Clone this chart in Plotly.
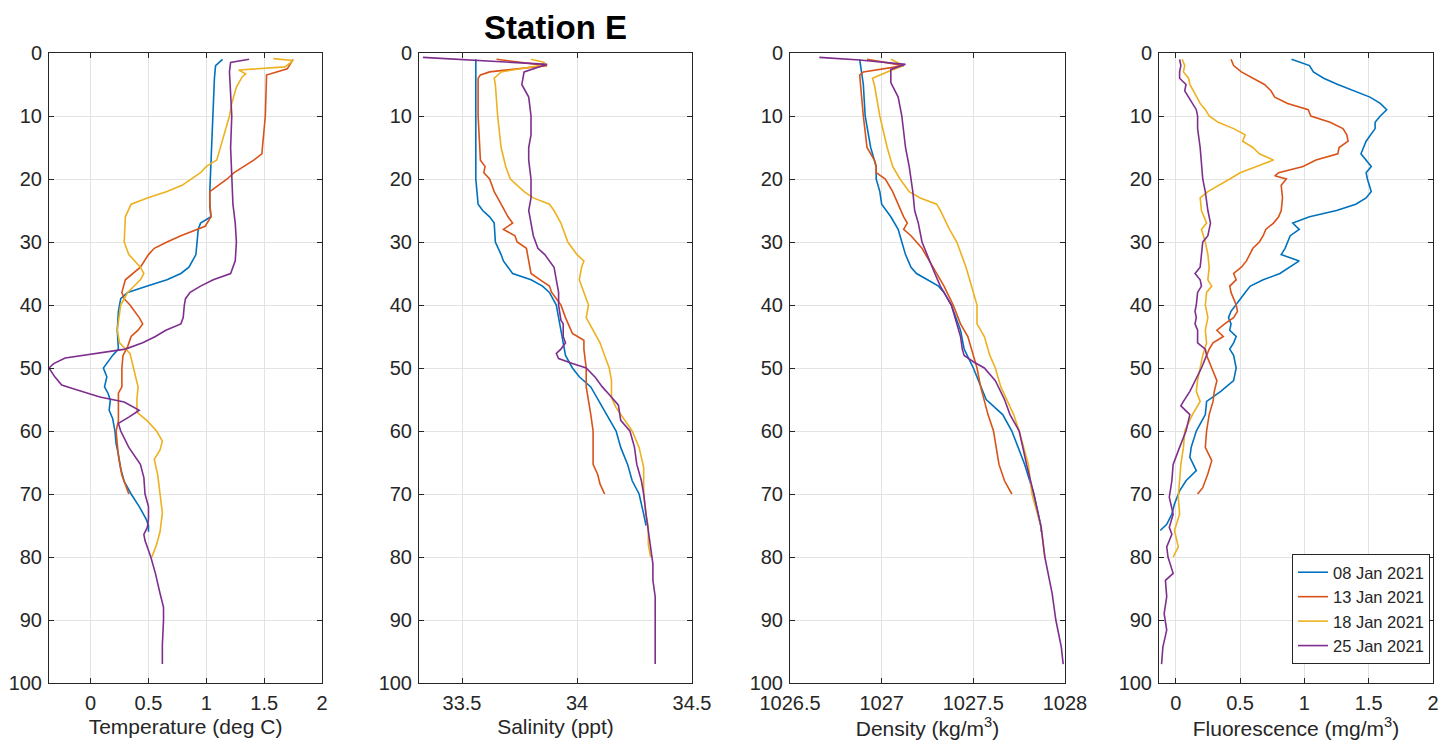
import plotly.graph_objects as go

dates = ["08 Jan 2021", "13 Jan 2021", "18 Jan 2021", "25 Jan 2021"]
colors = ["#0072BD", "#D95319", "#EDB120", "#7E2F8E"]

# ---------------- Temperature (deg C) ----------------
temp_d_0108 = [1, 2, 4, 8, 12, 16, 20, 22, 24, 26, 27, 28, 30, 32, 33, 34, 35, 36, 37, 38, 39, 41, 44, 46, 47, 48, 49, 50, 51.4, 53, 54, 55.1, 56.7, 58, 60, 62, 63.7, 66, 68, 70, 72, 74, 75, 76]
temp_0108 = [1.14, 1.08, 1.07, 1.06, 1.05, 1.04, 1.03, 1.03, 1.03, 1.04, 0.95, 0.93, 0.92, 0.91, 0.88, 0.85, 0.78, 0.66, 0.49, 0.32, 0.26, 0.24, 0.23, 0.24, 0.24, 0.19, 0.15, 0.11, 0.14, 0.12, 0.15, 0.17, 0.16, 0.19, 0.21, 0.22, 0.24, 0.26, 0.29, 0.35, 0.42, 0.48, 0.50, 0.50]

temp_d_0113 = [1, 2.5, 3.5, 4, 10, 16, 17, 19, 20, 22, 24, 26, 27.5, 28, 29, 30, 31, 32, 34, 36, 38, 39, 40, 42, 43, 44, 45, 46.6, 48, 50, 53, 54, 56, 58.4, 60, 64, 67, 70]
temp_0113 = [1.75, 1.70, 1.52, 1.52, 1.51, 1.48, 1.41, 1.24, 1.18, 1.03, 1.03, 1.04, 0.99, 0.92, 0.78, 0.66, 0.55, 0.50, 0.43, 0.30, 0.27, 0.29, 0.34, 0.42, 0.45, 0.41, 0.35, 0.32, 0.28, 0.27, 0.27, 0.24, 0.24, 0.24, 0.22, 0.24, 0.27, 0.33]

temp_d_0118 = [0.9, 1.2, 2.2, 2.7, 3.3, 3.8, 5.4, 8, 10, 14, 17, 18, 19, 21, 22, 23, 24, 26, 30, 32, 34, 35, 36, 38, 40, 44, 46, 47.7, 50, 53, 55, 57, 58.4, 60, 61.6, 63, 64.5, 67, 70, 73, 76, 78, 80]
temp_0118 = [1.58, 1.75, 1.68, 1.28, 1.34, 1.31, 1.26, 1.22, 1.20, 1.14, 1.09, 1.00, 0.95, 0.79, 0.66, 0.49, 0.35, 0.30, 0.29, 0.33, 0.43, 0.46, 0.43, 0.32, 0.26, 0.23, 0.25, 0.34, 0.37, 0.41, 0.40, 0.40, 0.49, 0.57, 0.62, 0.60, 0.55, 0.58, 0.60, 0.62, 0.60, 0.57, 0.53]

temp_d_0125 = [1, 1.5, 3, 6, 10, 15, 20, 24, 27, 30, 33, 34, 35, 36, 37, 38, 39, 40, 42, 43, 44, 45, 46, 47, 47.7, 48.4, 49.3, 50, 51.4, 52.7, 53.3, 54.6, 55.4, 56.7, 57.8, 58.8, 60, 62.6, 65.3, 67.4, 70, 72, 74, 75.3, 76.4, 77.4, 80, 82.6, 85.8, 88, 90, 94, 97]
temp_0125 = [1.37, 1.21, 1.20, 1.21, 1.22, 1.21, 1.22, 1.23, 1.25, 1.26, 1.25, 1.23, 1.21, 1.06, 0.95, 0.86, 0.82, 0.81, 0.80, 0.78, 0.65, 0.56, 0.45, 0.30, 0.02, -0.22, -0.32, -0.36, -0.31, -0.25, -0.15, 0.08, 0.29, 0.42, 0.33, 0.24, 0.26, 0.33, 0.43, 0.46, 0.47, 0.50, 0.50, 0.49, 0.46, 0.47, 0.52, 0.56, 0.60, 0.63, 0.63, 0.62, 0.62]

# ---------------- Salinity (ppt) ----------------
sal_d_0108 = [1, 5, 10, 15, 20, 22, 24, 25, 26, 27, 30, 32, 33, 34, 35, 36, 37, 38, 40, 44, 48, 50, 51.4, 53, 55.6, 57.4, 60, 62.6, 65.3, 67.9, 70, 73.2, 75]
sal_0108 = [33.56, 33.56, 33.56, 33.56, 33.56, 33.565, 33.57, 33.59, 33.62, 33.64, 33.645, 33.67, 33.68, 33.70, 33.72, 33.80, 33.85, 33.88, 33.91, 33.93, 33.95, 33.98, 34.01, 34.06, 34.10, 34.13, 34.17, 34.19, 34.22, 34.24, 34.27, 34.29, 34.30]

sal_d_0113 = [1, 2, 3, 3.5, 4, 10, 17, 18, 19, 20, 21, 22, 24, 26, 27, 28, 29, 30, 31, 33, 35, 36, 37, 38, 40, 42, 44.5, 45.6, 47, 50, 53, 57.4, 60, 65.3, 66.9, 68.4, 70]
sal_0113 = [33.65, 33.87, 33.62, 33.58, 33.57, 33.57, 33.58, 33.60, 33.595, 33.62, 33.63, 33.64, 33.67, 33.70, 33.72, 33.68, 33.73, 33.74, 33.78, 33.79, 33.80, 33.84, 33.88, 33.89, 33.93, 33.95, 33.98, 34.03, 34.03, 34.04, 34.04, 34.06, 34.07, 34.07, 34.09, 34.10, 34.12]

sal_d_0118 = [1, 1.5, 2, 3, 4, 5, 10, 15, 18, 20, 22, 23, 24, 25, 27, 30, 32, 33, 34, 36, 38, 40, 42, 44, 46, 48, 50, 52, 54.7, 56.3, 58.4, 60, 62.6, 65.8, 67.9, 70, 73.2, 75.3, 78, 80]
sal_0118 = [33.80, 33.86, 33.84, 33.67, 33.64, 33.645, 33.655, 33.67, 33.69, 33.71, 33.77, 33.81, 33.88, 33.90, 33.93, 33.96, 34.00, 34.03, 34.02, 34.01, 34.03, 34.05, 34.04, 34.07, 34.10, 34.12, 34.14, 34.15, 34.15, 34.17, 34.21, 34.24, 34.27, 34.29, 34.29, 34.29, 34.30, 34.31, 34.31, 34.32]

sal_d_0125 = [0.7, 1.2, 1.8, 3, 5, 7, 10, 13, 15, 17, 20, 23, 25, 27, 29, 31, 32, 34, 36, 38, 40, 42.4, 43, 45, 46, 47, 47.7, 48.5, 49.3, 50, 51.5, 53, 54.2, 55.9, 58.3, 60, 62.6, 65.3, 67.9, 70, 73.2, 75.8, 78.4, 81.1, 83.7, 86.3, 89, 93, 97]
sal_0125 = [33.33, 33.56, 33.87, 33.77, 33.76, 33.79, 33.80, 33.80, 33.79, 33.79, 33.80, 33.80, 33.79, 33.80, 33.81, 33.83, 33.86, 33.90, 33.91, 33.92, 33.92, 33.93, 33.94, 33.94, 33.95, 33.93, 33.91, 33.92, 33.98, 34.04, 34.08, 34.11, 34.14, 34.18, 34.19, 34.23, 34.25, 34.26, 34.28, 34.29, 34.30, 34.31, 34.32, 34.33, 34.33, 34.34, 34.34, 34.34, 34.34]

# ---------------- Density (kg/m3) ----------------
den_d_0108 = [1, 5, 10, 15, 18, 20, 22, 24, 26, 28, 30, 32, 34, 35, 36, 37, 38, 40, 44, 47, 50, 53, 55, 57.4, 60, 65.3, 70, 75.3, 76]
den_0108 = [1026.88, 1026.90, 1026.91, 1026.94, 1026.97, 1026.97, 1026.99, 1027.00, 1027.05, 1027.09, 1027.11, 1027.13, 1027.16, 1027.19, 1027.25, 1027.31, 1027.34, 1027.38, 1027.43, 1027.45, 1027.50, 1027.54, 1027.57, 1027.66, 1027.71, 1027.78, 1027.83, 1027.87, 1027.87]

den_d_0113 = [1, 2, 3, 3.5, 10, 15, 17, 18, 19, 20, 22, 24, 26, 27, 28, 29, 31, 33, 35, 37, 40, 43, 45, 48, 50, 53, 57.4, 60, 65.3, 67.9, 70]
den_0113 = [1026.92, 1027.12, 1026.90, 1026.88, 1026.90, 1026.92, 1026.96, 1026.97, 1026.97, 1027.02, 1027.06, 1027.09, 1027.12, 1027.14, 1027.12, 1027.16, 1027.22, 1027.26, 1027.30, 1027.34, 1027.39, 1027.43, 1027.47, 1027.50, 1027.52, 1027.54, 1027.58, 1027.61, 1027.64, 1027.67, 1027.71]

den_d_0118 = [1, 2, 3, 4, 5, 10, 15, 18, 20, 22, 23, 24, 25, 28, 30, 33, 34, 36, 38, 40, 43, 45, 48, 50, 53, 57.4, 60, 65.3, 70, 75.3, 80]
den_0118 = [1027.05, 1027.12, 1027.03, 1026.95, 1026.96, 1026.99, 1027.03, 1027.06, 1027.10, 1027.15, 1027.21, 1027.30, 1027.32, 1027.37, 1027.41, 1027.45, 1027.46, 1027.48, 1027.50, 1027.52, 1027.52, 1027.56, 1027.59, 1027.62, 1027.65, 1027.72, 1027.75, 1027.80, 1027.82, 1027.87, 1027.89]

den_d_0125 = [0.7, 1.1, 1.8, 2.6, 4.7, 7, 10, 15, 18, 20, 22, 25, 27, 30, 33, 35, 37, 40, 43, 45, 47, 48, 49, 50, 52, 55, 57.4, 60, 62.6, 65.3, 70, 75.3, 80, 85.8, 90, 94.3, 97]
den_0125 = [1026.66, 1026.88, 1027.13, 1027.05, 1027.05, 1027.09, 1027.11, 1027.13, 1027.15, 1027.16, 1027.17, 1027.18, 1027.20, 1027.22, 1027.26, 1027.29, 1027.32, 1027.38, 1027.41, 1027.43, 1027.44, 1027.45, 1027.50, 1027.56, 1027.62, 1027.67, 1027.70, 1027.75, 1027.77, 1027.79, 1027.83, 1027.87, 1027.89, 1027.93, 1027.95, 1027.98, 1027.99]

# ---------------- Fluorescence (mg/m3) ----------------
flu_d_0108 = [1, 2, 3, 4, 5, 6, 7, 8, 9, 10, 11, 12, 14, 16, 17, 18, 19, 20, 22, 23, 24, 25, 26, 27, 28, 29, 31, 32, 33, 34, 35, 36, 37, 38, 40, 41, 42, 43, 44, 45, 46, 47, 48, 50, 52, 53.7, 55.3, 57.4, 60, 62.6, 64.2, 66.3, 67.9, 69.5, 71.6, 73.2, 74.8, 75.8]
flu_0108 = [0.90, 1.04, 1.07, 1.15, 1.26, 1.38, 1.51, 1.59, 1.64, 1.59, 1.55, 1.55, 1.48, 1.44, 1.48, 1.52, 1.48, 1.49, 1.52, 1.48, 1.40, 1.25, 1.04, 0.91, 0.96, 0.89, 0.85, 0.82, 0.96, 0.89, 0.81, 0.68, 0.58, 0.54, 0.47, 0.43, 0.41, 0.43, 0.42, 0.47, 0.45, 0.42, 0.45, 0.47, 0.45, 0.35, 0.24, 0.23, 0.16, 0.12, 0.11, 0.16, 0.08, 0.03, -0.01, -0.03, -0.07, -0.12]

flu_d_0113 = [1, 2, 3, 4, 5, 6, 7, 8, 9, 10, 11, 12, 13, 14, 15, 16, 17, 18, 19, 19.5, 20, 21, 23, 25, 26, 27, 28, 29, 30, 31, 33, 34, 35, 36, 37, 38, 39, 40, 41, 42, 43, 44, 45, 46, 47, 48, 50, 52, 53.7, 55.3, 57.4, 60, 62.6, 64.7, 66.8, 69, 70]
flu_0113 = [0.43, 0.45, 0.51, 0.60, 0.69, 0.74, 0.77, 0.87, 1.03, 1.05, 1.20, 1.30, 1.33, 1.34, 1.27, 1.26, 1.09, 0.99, 0.80, 0.77, 0.86, 0.82, 0.83, 0.82, 0.80, 0.76, 0.70, 0.68, 0.65, 0.60, 0.55, 0.51, 0.45, 0.47, 0.42, 0.43, 0.45, 0.47, 0.48, 0.45, 0.38, 0.32, 0.37, 0.29, 0.26, 0.24, 0.28, 0.32, 0.30, 0.29, 0.26, 0.24, 0.23, 0.28, 0.25, 0.21, 0.17]

flu_d_0118 = [1, 2, 3, 4, 5, 7, 8, 9, 10, 11, 12, 13, 14, 15, 16, 17, 18, 19, 20, 21, 22, 23, 25, 27, 28, 30, 32, 34, 36, 37, 38, 40, 42, 44, 46, 48, 50, 52, 53.7, 55.3, 57.4, 60, 62.6, 65.3, 67.9, 70.5, 73.2, 75.8, 78.4, 80]
flu_0118 = [0.05, 0.07, 0.06, 0.10, 0.11, 0.16, 0.19, 0.23, 0.26, 0.33, 0.45, 0.54, 0.52, 0.60, 0.65, 0.76, 0.63, 0.50, 0.42, 0.34, 0.25, 0.19, 0.20, 0.24, 0.20, 0.23, 0.25, 0.26, 0.25, 0.28, 0.24, 0.23, 0.25, 0.23, 0.24, 0.21, 0.19, 0.17, 0.16, 0.19, 0.13, 0.07, 0.06, 0.04, 0.03, 0.02, 0.03, -0.01, 0.02, -0.02]

flu_d_0125 = [1, 2, 3, 4, 5, 6, 7, 8, 9, 10, 12, 15, 18, 20, 22, 25, 27, 29, 30, 32, 34, 35, 36, 37, 38, 40, 41, 42, 43, 44, 46, 47, 48, 50, 52, 53.7, 55.3, 56, 57.4, 60, 62.6, 65.3, 67.9, 70.5, 73.2, 75.3, 76.4, 78.4, 80, 82.6, 83.7, 86.3, 89, 91.6, 94.3, 97]
flu_0125 = [0.03, 0.04, 0.03, 0.03, 0.08, 0.07, 0.10, 0.13, 0.16, 0.17, 0.17, 0.19, 0.20, 0.21, 0.23, 0.25, 0.27, 0.25, 0.21, 0.20, 0.19, 0.15, 0.19, 0.20, 0.17, 0.16, 0.15, 0.16, 0.15, 0.17, 0.17, 0.23, 0.24, 0.20, 0.15, 0.11, 0.06, 0.04, 0.11, 0.08, 0.03, -0.02, -0.03, -0.05, -0.02, -0.05, -0.03, -0.07, -0.06, -0.02, -0.08, -0.07, -0.09, -0.07, -0.10, -0.11]

depth_ticks = [0, 10, 20, 30, 40, 50, 60, 70, 80, 90, 100]

panels = [
    dict(series=[(temp_0108, temp_d_0108), (temp_0113, temp_d_0113), (temp_0118, temp_d_0118), (temp_0125, temp_d_0125)],
         title="Temperature (deg C)", range=[-0.36, 2], ticks=[0, 0.5, 1, 1.5, 2]),
    dict(series=[(sal_0108, sal_d_0108), (sal_0113, sal_d_0113), (sal_0118, sal_d_0118), (sal_0125, sal_d_0125)],
         title="Salinity (ppt)", range=[33.313, 34.5], ticks=[33.5, 34, 34.5]),
    dict(series=[(den_0108, den_d_0108), (den_0113, den_d_0113), (den_0118, den_d_0118), (den_0125, den_d_0125)],
         title="Density (kg/m<sup>3</sup>)", range=[1026.5, 1028], ticks=[1026.5, 1027, 1027.5, 1028]),
    dict(series=[(flu_0108, flu_d_0108), (flu_0113, flu_d_0113), (flu_0118, flu_d_0118), (flu_0125, flu_d_0125)],
         title="Fluorescence (mg/m<sup>3</sup>)", range=[-0.13, 2], ticks=[0, 0.5, 1, 1.5, 2]),
]

# The page body adds an 8 px offset, so the figure is laid out 8 px smaller.
OFF = 8
W, H = 1454 - OFF, 747 - OFF
ML, MR, MT, MB = 49 - OFF, 21, 53 - OFF, 64
pw = W - ML - MR
page_domains = [(49, 322), (419, 692), (790, 1065), (1159, 1433)]
domains = [((a - OFF - ML) / pw, (b - OFF - ML) / pw) for a, b in page_domains]
ph = H - MT - MB

FONT = "Liberation Sans, Arial, sans-serif"
AX = "#262626"

fig = go.Figure()
layout = dict(
    width=W, height=H,
    margin=dict(l=ML, r=MR, t=MT, b=MB, autoexpand=False),
    paper_bgcolor="white", plot_bgcolor="white",
    font=dict(family=FONT, color=AX),
    showlegend=True,
)

for i, p in enumerate(panels):
    n = i + 1
    xa = "x" if n == 1 else f"x{n}"
    ya = "y" if n == 1 else f"y{n}"
    for j, (xv, dv) in enumerate(p["series"]):
        fig.add_trace(go.Scatter(
            x=xv, y=dv, mode="lines", name=dates[j],
            line=dict(color=colors[j], width=1.6),
            xaxis=xa, yaxis=ya, showlegend=(n == 4),
        ))
    common = dict(showline=True, linecolor=AX, linewidth=1, mirror="ticks",
                  ticks="inside", ticklen=5, tickcolor=AX, tickwidth=1,
                  showgrid=True, gridcolor="#e3e3e3", gridwidth=1, zeroline=False,
                  automargin=False,
                  tickfont=dict(size=20, color=AX, family=FONT))
    layout["xaxis" if n == 1 else f"xaxis{n}"] = dict(
        common, domain=list(domains[i]), range=p["range"], tickvals=p["ticks"],
        ticktext=[f"{t:g}" for t in p["ticks"]], anchor=ya,
        ticklabelstandoff=2,
        title=dict(text=p["title"], font=dict(size=21, color=AX, family=FONT), standoff=6),
    )
    layout["yaxis" if n == 1 else f"yaxis{n}"] = dict(
        common, domain=[0, 1], range=[100, 0], tickvals=depth_ticks, anchor=xa,
        ticklabelstandoff=2,
    )

layout["legend"] = dict(
    x=(1430 - OFF - ML) / pw, y=(683 - 664) / ph, xanchor="right", yanchor="bottom",
    bgcolor="white", bordercolor=AX, borderwidth=1,
    font=dict(size=16.5, color=AX, family=FONT), tracegroupgap=0,
)
layout["annotations"] = [dict(
    text="<b>Station E</b>", x=(domains[1][0] + domains[1][1]) / 2, xref="paper",
    y=1 + 25 / ph, yref="paper", xanchor="center", yanchor="middle",
    showarrow=False, font=dict(size=33, color="black", family=FONT),
)]
fig.update_layout(**layout)
fig.write_html("out.html")
